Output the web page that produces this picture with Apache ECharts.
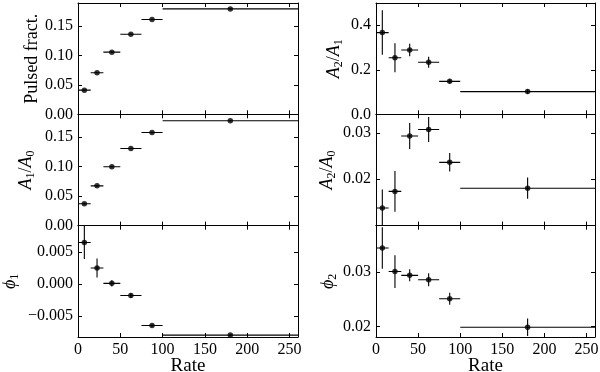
<!DOCTYPE html>
<html>
<head>
<meta charset="utf-8">
<script src="https://cdn.jsdelivr.net/npm/echarts@6/dist/echarts.min.js"></script>
<style>html,body{margin:0;padding:0;background:#fff}#c{width:600px;height:372px}</style>
</head>
<body>
<div id="c"></div>
<script>
// ---- data ----
const rate = [7.5, 22.5, 40, 62.5, 87.5, 180];
const binLo = [0, 15, 30, 50, 75, 100];
const binHi = [15, 30, 50, 75, 100, 300];

const pulsedFrac = [0.041, 0.0705, 0.1055, 0.136, 0.161, 0.179];
const pulsedFracErr = [0.001, 0.001, 0.001, 0.001, 0.001, 0.001];
const a1a0 = [0.037, 0.0675, 0.100, 0.131, 0.158, 0.178];
const a1a0Err = [0.001, 0.001, 0.001, 0.001, 0.001, 0.001];
const phi1 = [0.0065, 0.0025, 0.0001, -0.0018, -0.0065, -0.0080];
const phi1Err = [0.0026, 0.0015, 0.0005, 0.0004, 0.0002, 0.0001];
const a2a1 = [0.367, 0.254, 0.289, 0.234, 0.148, 0.102];
const a2a1Err = [0.10, 0.065, 0.028, 0.025, 0.010, 0.011];
const a2a0 = [0.0137, 0.0173, 0.0293, 0.0307, 0.0236, 0.0180];
const a2a0Err = [0.0040, 0.0044, 0.0028, 0.0027, 0.0020, 0.0023];
const phi2 = [0.0344, 0.0301, 0.0294, 0.0286, 0.0251, 0.0199];
const phi2Err = [0.0038, 0.0030, 0.0011, 0.0012, 0.0011, 0.0016];

const xTicks = [0, 50, 100, 150, 200, 250];
const pulsedTicks = [0, 0.05, 0.10, 0.15];
const a1a0Ticks = [0, 0.05, 0.10, 0.15];
const phi1Ticks = [-0.005, 0, 0.005];
const a2a1Ticks = [0, 0.2, 0.4];
const a2a0Ticks = [0.02, 0.03];
const phi2Ticks = [0.02, 0.03];

// ---- layout / style ----
const FONT = "'Liberation Serif', 'DejaVu Serif', serif";
const LX = 78, LW = 220, RX = 376, RW = 219;
const TOPS = [3, 114.3, 225.7], PH = 111.3;

const richStyles = {
  i: {fontFamily: FONT, fontStyle: 'italic', fontSize: 18, color: '#000', lineHeight: 20},
  r: {fontFamily: FONT, fontSize: 18, color: '#000', lineHeight: 20},
  s: {fontFamily: FONT, fontSize: 12, color: '#000', lineHeight: 12, padding: [9, 0, 0, 0]}
};

const panels = [
  {x: LX, w: LW, row: 0, vals: pulsedFrac, errs: pulsedFracErr, min: 0, max: 0.189, ticks: pulsedTicks, dec: 2,
   name: '{r|Pulsed fract.}', gap: 35},
  {x: LX, w: LW, row: 1, vals: a1a0, errs: a1a0Err, min: 0, max: 0.189, ticks: a1a0Ticks, dec: 2,
   name: '{i|A}{s|1}{r|/}{i|A}{s|0}', gap: 42},
  {x: LX, w: LW, row: 2, vals: phi1, errs: phi1Err, min: -0.0083, max: 0.00913, ticks: phi1Ticks, dec: 3,
   name: '{i|ϕ}{s|1}', gap: 58},
  {x: RX, w: RW, row: 0, vals: a2a1, errs: a2a1Err, min: 0, max: 0.5, ticks: a2a1Ticks, dec: 1,
   name: '{i|A}{s|2}{r|/}{i|A}{s|1}', gap: 32},
  {x: RX, w: RW, row: 1, vals: a2a0, errs: a2a0Err, min: 0.0099, max: 0.034, ticks: a2a0Ticks, dec: 2,
   name: '{i|A}{s|2}{r|/}{i|A}{s|0}', gap: 39},
  {x: RX, w: RW, row: 2, vals: phi2, errs: phi2Err, min: 0.0181, max: 0.0385, ticks: phi2Ticks, dec: 2,
   name: '{i|ϕ}{s|2}', gap: 37}
];

function fmt(v, dec) {
  const s = Math.abs(v).toFixed(dec);
  return (v < -1e-12 ? '\u2212' : '') + s;
}

const lineStyle = {color: '#000', width: 1};
const grid = [], xAxis = [], yAxis = [], series = [];

panels.forEach((p, i) => {
  grid.push({left: p.x, top: TOPS[p.row], width: p.w, height: PH, containLabel: false, outerBoundsMode: 'none'});
  const bottom = p.row === 2;
  xAxis.push({
    type: 'value', gridIndex: i, position: 'bottom', min: 0, max: 260,
    axisLine: {show: true, onZero: false, lineStyle},
    axisTick: {show: true, inside: true, length: 4, lineStyle, customValues: xTicks},
    axisLabel: {show: bottom, customValues: xTicks, margin: 5, fontFamily: FONT, fontSize: 16, color: '#000',
      formatter: v => String(v)},
    splitLine: {show: false},
    name: bottom ? 'Rate' : '', nameLocation: 'middle', nameGap: 20, nameMoveOverlap: false,
    nameTextStyle: {fontFamily: FONT, fontSize: 19, color: '#000'}
  });
  xAxis.push({
    type: 'value', gridIndex: i, position: 'top', min: 0, max: 260,
    axisLine: {show: true, onZero: false, lineStyle},
    axisTick: {show: true, inside: true, length: 4, lineStyle, customValues: xTicks},
    axisLabel: {show: false}, splitLine: {show: false}
  });
  yAxis.push({
    type: 'value', gridIndex: i, position: 'left', min: p.min, max: p.max,
    axisLine: {show: true, onZero: false, lineStyle},
    axisTick: {show: true, inside: true, length: 4, lineStyle, customValues: p.ticks},
    axisLabel: {show: true, customValues: p.ticks, margin: 5, fontFamily: FONT, fontSize: 16, color: '#000',
      formatter: v => fmt(v, p.dec)},
    splitLine: {show: false},
    name: p.name, nameLocation: 'middle', nameGap: p.gap, nameRotate: 90,
    nameTextStyle: {fontFamily: FONT, fontSize: 18, color: '#000', rich: richStyles}
  });
  yAxis.push({
    type: 'value', gridIndex: i, position: 'right', min: p.min, max: p.max,
    axisLine: {show: true, onZero: false, lineStyle},
    axisTick: {show: true, inside: true, length: 4, lineStyle, customValues: p.ticks},
    axisLabel: {show: false}, splitLine: {show: false}
  });
  const xi = 2 * i, yi = 2 * i;
  series.push({
    type: 'custom', xAxisIndex: xi, yAxisIndex: yi, clip: true, silent: true,
    encode: {x: 0, y: 1},
    data: rate.map((r, k) => [r, p.vals[k], binLo[k], binHi[k], p.errs[k]]),
    renderItem: (params, api) => {
      const x = api.value(0), y = api.value(1), lo = api.value(2), hi = api.value(3), e = api.value(4);
      const a = api.coord([lo, y]), b = api.coord([hi, y]);
      const c = api.coord([x, y - e]), d = api.coord([x, y + e]);
      return {type: 'group', children: [
        {type: 'line', shape: {x1: a[0], y1: a[1], x2: b[0], y2: b[1]}, style: {stroke: '#000', lineWidth: 1.1}},
        {type: 'line', shape: {x1: c[0], y1: c[1], x2: d[0], y2: d[1]}, style: {stroke: '#000', lineWidth: 1.1}}
      ]};
    }
  });
  series.push({
    type: 'scatter', xAxisIndex: xi, yAxisIndex: yi, symbol: 'circle', symbolSize: 5.5,
    itemStyle: {color: '#000'}, silent: true,
    data: rate.map((r, k) => [r, p.vals[k]])
  });
});

const chart = echarts.init(document.getElementById('c'), null, {renderer: 'canvas'});
chart.setOption({animation: false, backgroundColor: '#fff', grid, xAxis, yAxis, series});
</script>
</body>
</html>
